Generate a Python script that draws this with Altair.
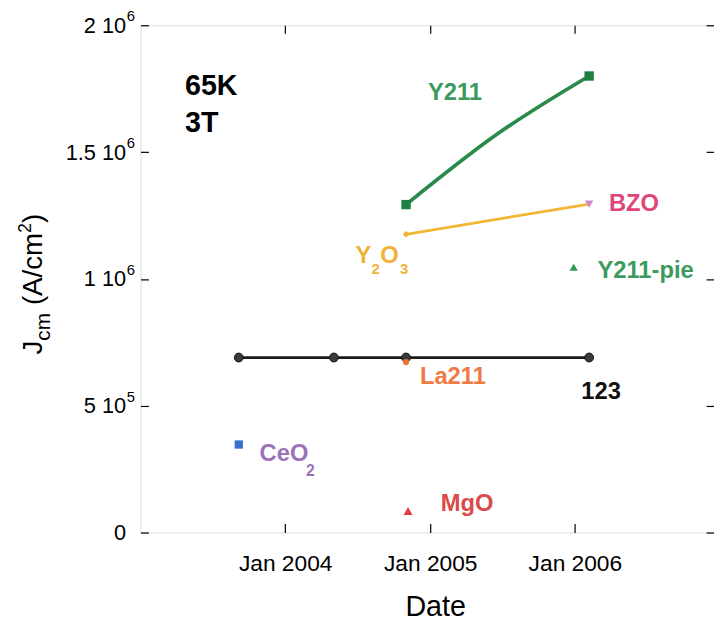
import altair as alt
import pandas as pd

FONT = "Liberation Sans"

# ---------------- data ----------------
dates_123 = ["2003-09-06", "2004-05-03", "2004-11-01", "2006-02-06"]
jc_123 = [690000, 690000, 690000, 690000]

dates_y211 = ["2004-11-01", "2006-02-06"]
jc_y211 = [1293000, 1800000]
# fitted curve through the Y211 points (middle point)
dates_y211_curve = ["2004-11-01", "2005-06-20", "2006-02-06"]
jc_y211_curve = [1293000, 1572000, 1800000]

dates_y2o3 = ["2004-11-01"]
jc_y2o3 = [1176000]
dates_bzo = ["2006-02-06"]
jc_bzo = [1295000]
dates_y211pie = ["2005-12-29"]
jc_y211pie = [1046000]
dates_la211 = ["2004-11-01"]
jc_la211 = [672000]
dates_ceo2 = ["2003-09-06"]
jc_ceo2 = [347000]
dates_mgo = ["2004-11-06"]
jc_mgo = [85000]

y_ticks = [0, 500000, 1000000, 1500000, 2000000]
y_tick_mantissa = ["0", "5 10", "1 10", "1.5 10", "2 10"]
y_tick_exponent = ["", "5", "6", "6", "6"]
x_tick_years = [2004, 2005, 2006]


def frame(dates, vals):
    return pd.DataFrame({"date": dates, "jc": vals})


df123 = frame(dates_123, jc_123)
dfy211 = frame(dates_y211, jc_y211)
dfy211c = frame(dates_y211_curve, jc_y211_curve)
dfy2o3 = frame(dates_y2o3, jc_y2o3)
dfbzo = frame(dates_bzo, jc_bzo)
dforange = frame(dates_y2o3 + dates_bzo, jc_y2o3 + jc_bzo)
dfpie = frame(dates_y211pie, jc_y211pie)
dfla = frame(dates_la211, jc_la211)
dfce = frame(dates_ceo2, jc_ceo2)
dfmg = frame(dates_mgo, jc_mgo)
dfone = df123.iloc[[0]]
dfexp = pd.DataFrame({"jc": y_ticks, "exp": y_tick_exponent})
dfexp = dfexp[dfexp["exp"] != ""]

xs = alt.Scale(domain=[alt.DateTime(year=2003, month=1, date=1),
                       alt.DateTime(year=2006, month=12, date=18)])
ys = alt.Scale(domain=[0, 2000000], nice=False, zero=True)

X = alt.X("date:T", scale=xs, axis=None)
Y = alt.Y("jc:Q", scale=ys, axis=None)

label_expr = " : ".join(
    f"datum.value == {v} ? '{t}'" for v, t in zip(y_ticks[:-1], y_tick_mantissa[:-1])
) + f" : '{y_tick_mantissa[-1]}'"

x_values = [alt.DateTime(year=yv, month=1, date=1) for yv in x_tick_years]

ax_bottom = alt.Axis(orient="bottom", values=x_values, format="%b %Y", grid=False,
                     domain=False, tickSize=9, offset=-9, tickColor="black", tickWidth=1.2,
                     labelFont=FONT, labelFontSize=23, labelColor="black",
                     labelPadding=20, labelFlush=False, labelOverlap=False,
                     title="Date", titleFont=FONT, titleFontSize=29,
                     titleFontWeight="normal", titleColor="black",
                     titleX=298, titleY=93, titleAlign="center", titleBaseline="alphabetic")
ax_left = alt.Axis(orient="left", values=y_ticks, labelExpr=label_expr, grid=False,
                   domain=False, tickSize=8, offset=-8, tickColor="black", tickWidth=1.2,
                   labelFont=FONT, labelFontSize=22, labelColor="black",
                   labelPadding=15, labelFlush=False, labelOverlap=False, title=None)
ax_top = alt.Axis(orient="top", values=x_values, labels=False, grid=False, domain=False,
                  tickSize=8, offset=-8, tickColor="black", tickWidth=1.2, title=None)
ax_right = alt.Axis(orient="right", values=y_ticks, labels=False, grid=False, domain=False,
                    tickSize=8, offset=-8, tickColor="black", tickWidth=1.2, title=None)

# ---------------- layers ----------------
base123 = alt.Chart(df123).mark_line(color="#1a1a1a", strokeWidth=2.8).encode(
    x=alt.X("date:T", scale=xs, axis=ax_bottom),
    y=alt.Y("jc:Q", scale=ys, axis=ax_left),
)
frame_layer = alt.Chart(df123).mark_point(opacity=0).encode(
    x=alt.X("date:T", scale=xs, axis=ax_top),
    y=alt.Y("jc:Q", scale=ys, axis=ax_right),
)
exp_layer = alt.Chart(dfexp).mark_text(
    align="left", baseline="middle", fontSize=15, font=FONT, color="black", dy=-9
).encode(x=alt.value(-14), y=alt.Y("jc:Q", scale=ys, axis=None), text="exp:N")

green_line = alt.Chart(dfy211c).mark_line(color="#2a8a4a", strokeWidth=3.8,
                                          interpolate="natural").encode(x=X, y=Y)
orange_line = alt.Chart(dforange).mark_line(color="#f2b634", strokeWidth=2.8).encode(x=X, y=Y)

pts123 = alt.Chart(df123).mark_circle(size=80, color="#3a3a3a", opacity=1,
                                      stroke="#111111", strokeWidth=1).encode(x=X, y=Y)
pts_y211 = alt.Chart(dfy211).mark_point(shape="square", filled=True, size=90,
                                        color="#1f7f40", opacity=1).encode(x=X, y=Y)
pt_y2o3 = alt.Chart(dfy2o3).mark_point(shape="diamond", filled=True, size=45,
                                       color="#f0b030", opacity=1).encode(x=X, y=Y)
pt_bzo = alt.Chart(dfbzo).mark_point(shape="triangle-down", filled=True, size=70,
                                     color="#c98bc9", opacity=1).encode(x=X, y=Y)
pt_pie = alt.Chart(dfpie).mark_point(shape="triangle-up", filled=True, size=70,
                                     color="#2e9a55", opacity=1).encode(x=X, y=Y)
pt_la = alt.Chart(dfla).mark_circle(size=40, color="#f07038", opacity=1).encode(x=X, y=Y)
pt_ce = alt.Chart(dfce).mark_point(shape="square", filled=True, size=70,
                                   color="#3a6fd0", opacity=1).encode(x=X, y=Y)
pt_mg = alt.Chart(dfmg).mark_point(shape="triangle-up", filled=True, size=85,
                                   color="#e04040", opacity=1).encode(x=X, y=Y)


def label(df, text, color, dx, dy, size=24, bold=True, align="left"):
    return alt.Chart(df).mark_text(
        text=text, color=color, dx=dx, dy=dy, fontSize=size, font=FONT,
        fontWeight="bold" if bold else "normal", align=align, baseline="alphabetic",
    ).encode(x=X, y=Y)


labels = [
    label(dfy211.iloc[[-1]], "Y211", "#3c9a5e", -163, 24),
    label(dfbzo, "BZO", "#e0457a", 20, 7),
    label(dfpie, "Y211-pie", "#3c9a5e", 24, 11),
    label(dfla, "La211", "#f07a45", 14, 22),
    label(df123.iloc[[-1]], "123", "#111111", -8, 42),
    label(dfmg, "MgO", "#dc4a4a", 33, 0),
    label(dfce, "CeO", "#9b72b8", 21, 17),
    label(dfce, "2", "#9b72b8", 68, 32, size=16),
    label(dfy2o3, "Y", "#f0b33a", -51, 29),
    label(dfy2o3, "2", "#f0b33a", -35, 40, size=15),
    label(dfy2o3, "O", "#f0b33a", -26, 29),
    label(dfy2o3, "3", "#f0b33a", -6, 40, size=15),
]


def fixed_text(text, x, y, size, bold=False, angle=0):
    kw = dict(text=text, color="black", fontSize=size, font=FONT,
              fontWeight="bold" if bold else "normal", align="left",
              baseline="alphabetic")
    if angle:
        kw["angle"] = angle
    return alt.Chart(dfone).mark_text(**kw).encode(x=alt.value(x), y=alt.value(y))


panel = [
    fixed_text("65K", 45, 71, 29, bold=True),
    fixed_text("3T", 45, 108, 29, bold=True),
]

ytitle = [
    fixed_text("J", -100, 333, 28, angle=270),
    fixed_text("cm", -92, 319, 21, angle=270),
    fixed_text("(A/cm", -100, 283, 28, angle=270),
    fixed_text("2", -111, 210, 18, angle=270),
    fixed_text(")", -100, 200, 28, angle=270),
]

chart = alt.layer(
    base123, frame_layer, exp_layer, green_line, orange_line,
    pts123, pts_y211, pt_y2o3, pt_bzo, pt_pie, pt_la, pt_ce, pt_mg,
    *labels, *panel, *ytitle,
).resolve_axis(x="independent", y="independent").properties(
    width=580, height=513,
    autosize=alt.AutoSizeParams(type="none"),
    padding={"left": 134, "top": 14, "right": 0, "bottom": 86},
).configure_view(stroke="black", strokeWidth=1.2).configure(background="white")

chart.save("out.html", embed_options={"renderer": "svg", "actions": False})
